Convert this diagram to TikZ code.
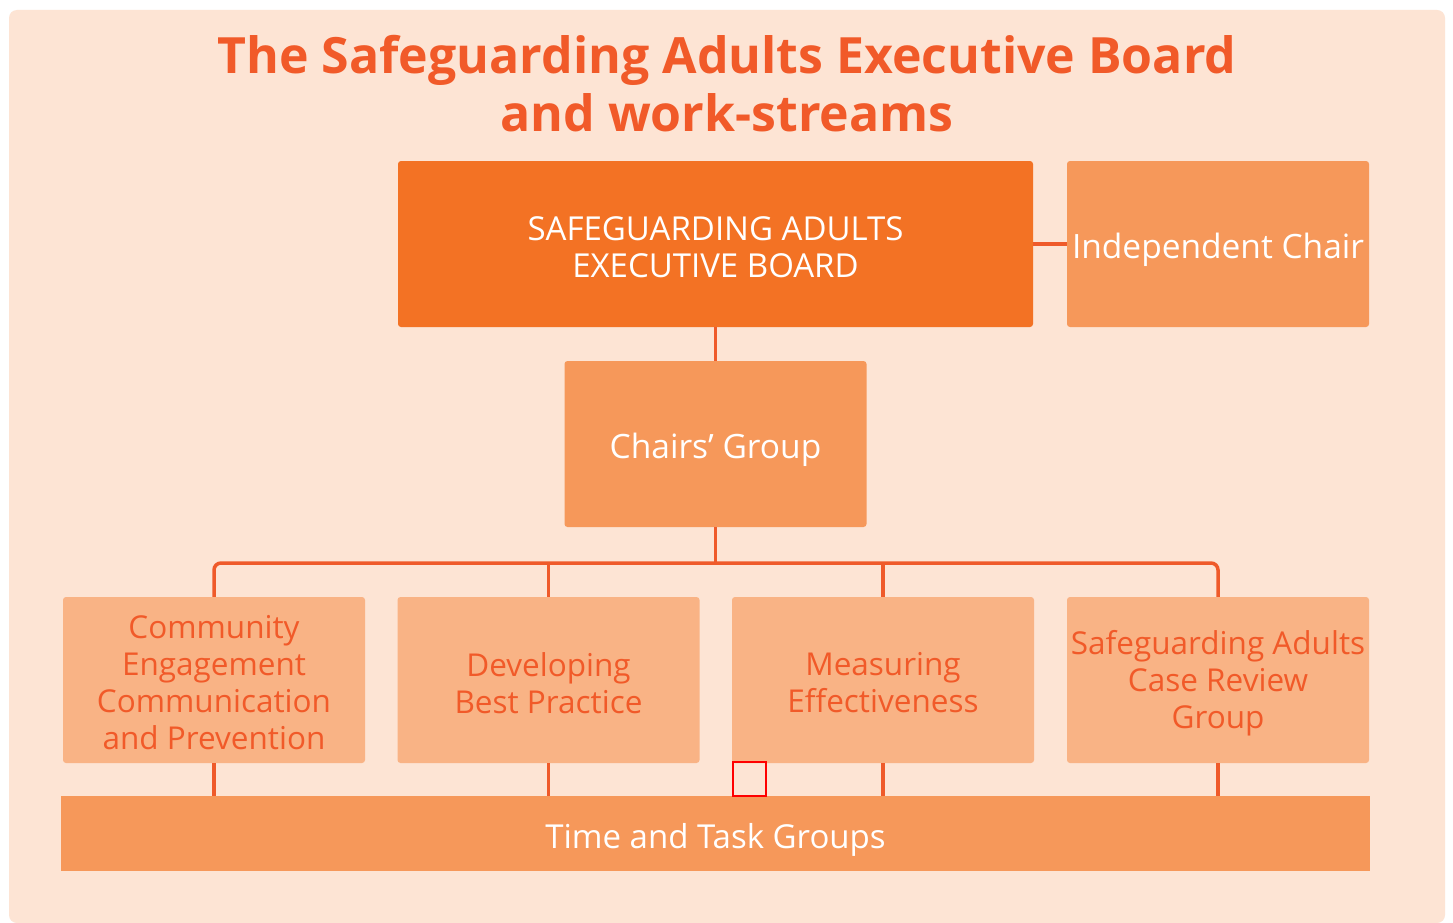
\documentclass[tikz,border=0pt]{standalone}
\usepackage{fontspec}
\setmainfont{Open Sans}
\definecolor{bgc}{HTML}{FDE4D4}
\definecolor{titlec}{HTML}{F15A29}
\definecolor{boardc}{HTML}{F37224}
\definecolor{midc}{HTML}{F6985A}
\definecolor{lightc}{HTML}{F9B385}
\definecolor{linec}{HTML}{EF5A2A}
\begin{document}
\begin{tikzpicture}[x=1pt,y=-1pt,
  box/.style={rectangle,rounded corners=3pt,inner sep=0pt,minimum height=166pt},
  boardbox/.style={box,fill=boardc,minimum width=635pt},
  midbox/.style={box,fill=midc,minimum width=302pt},
  lowbox/.style={box,fill=lightc,minimum width=302pt},
  whitetxt/.style={text=white,align=center,inner sep=0pt,font=\fontsize{33.5}{37}\selectfont},
  lowtxt/.style={text=titlec,align=center,inner sep=0pt,font=\fontsize{31.5}{37}\selectfont},
  conn/.style={draw=linec,line width=3.5pt}]
\useasboundingbox (0,0) rectangle (1453,923);
\fill[white] (0,0) rectangle (1453,923);
\fill[bgc,rounded corners=8pt] (9,10) rectangle (1445,923);
\node[text=titlec,align=center,font=\bfseries\fontsize{50}{58}\selectfont] (title) at (727,84)
  {The Safeguarding Adults Executive Board\\and work-streams};
\node[boardbox] (board) at (715.5,244) {};
\node[midbox] (indep) at (1218,244) {};
\node[midbox] (chairs) at (715.5,444) {};
\node[lowbox] (c1) at (214,680) {};
\node[lowbox] (c2) at (548.5,680) {};
\node[lowbox] (c3) at (883,680) {};
\node[lowbox] (c4) at (1218,680) {};
\node[rectangle,inner sep=0pt,minimum width=1309pt,minimum height=75pt,fill=midc] (time) at (715.5,833.5) {};
\node[whitetxt,font=\fontsize{33}{37}\selectfont] (boardt) at ([yshift=-3pt]board.center) {SAFEGUARDING ADULTS\\EXECUTIVE BOARD};
\node[whitetxt] (indept) at ([yshift=-6pt]indep.center) {Independent Chair};
\node[whitetxt] (chairst) at ([yshift=-6pt]chairs.center) {Chairs’ Group};
\node[whitetxt,font=\fontsize{33}{37}\selectfont] (timet) at ([yshift=-6pt]time.center) {Time and Task Groups};
\node[lowtxt] (c1t) at ([yshift=-3pt]c1.center) {Community\\Engagement\\Communication\\and Prevention};
\node[lowtxt] (c2t) at ([yshift=-3pt]c2.center) {Developing\\Best Practice};
\node[lowtxt] (c3t) at ([yshift=-3pt]c3.center) {Measuring\\Effectiveness};
\node[lowtxt] (c4t) at ([yshift=-3pt]c4.center) {Safeguarding Adults\\Case Review\\Group};
\coordinate (bus) at (715.5,563);
\draw[conn] (board.east) -- (indep.west);
\draw[conn] (board.south) -- (chairs.north);
\draw[conn] (chairs.south) -- (bus);
\draw[conn,rounded corners=7pt] (c1.north) -- (c1.north |- bus) -- (c4.north |- bus) -- (c4.north);
\draw[conn] (c2.north) -- (c2.north |- bus);
\draw[conn] (c3.north) -- (c3.north |- bus);
\foreach \c in {c1,c2,c3,c4} \draw[conn] (\c.south) -- (\c.south |- time.north);
\node[draw=red,line width=1.2pt,inner sep=0pt,minimum width=33pt,minimum height=34pt] (sel) at (749.5,779) {};
\end{tikzpicture}
\end{document}
